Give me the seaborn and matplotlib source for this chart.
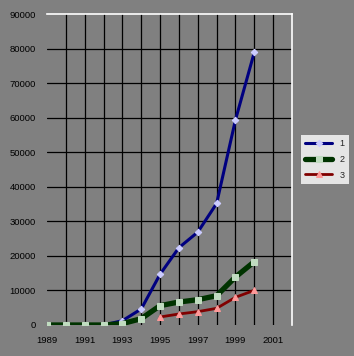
import numpy as np
import pandas as pd
import matplotlib
matplotlib.use("Agg")
import matplotlib.pyplot as plt
import seaborn as sns

years = [1989, 1990, 1991, 1992, 1993, 1994, 1995, 1996, 1997, 1998, 1999, 2000]
series1 = [0, 0, 0, 0, 1250, 4630, 14700, 22400, 26900, 35200, 59400, 79000]
series2 = [0, 0, 0, 0, 400, 1830, 5600, 6660, 7330, 8490, 13900, 18340]
years3 = [1995, 1996, 1997, 1998, 1999, 2000]
series3 = [2320, 3190, 3860, 4830, 8020, 10050]
names = ["1", "2", "3"]
xticks = [1989, 1991, 1993, 1995, 1997, 1999, 2001]
yticks = [0, 10000, 20000, 30000, 40000, 50000, 60000, 70000, 80000, 90000]

df = pd.concat([
    pd.DataFrame({"year": years, "value": series1, "series": names[0]}),
    pd.DataFrame({"year": years, "value": series2, "series": names[1]}),
    pd.DataFrame({"year": years3, "value": series3, "series": names[2]}),
])

sns.set_style("white")
plt.rcParams["font.family"] = ["Liberation Sans", "DejaVu Sans"]

bg = "#808080"
fig = plt.figure(figsize=(3.54, 3.56), dpi=100, facecolor=bg)
ax = fig.add_axes([47/354, 31/356, 245/354, 310.7/356])
ax.set_facecolor(bg)

line_colors = {"1": "#000080", "2": "#003300", "3": "#800000"}
marker_fc = {"1": "#ccccff", "2": "#c0dcc0", "3": "#ff9999"}
markers = {"1": "D", "2": "s", "3": "^"}
lws = {"1": 2.2, "2": 3.8, "3": 2.0}
msz = {"1": 3.3, "2": 3.8, "3": 4.0}

# grid
for yv in yticks[1:-1]:
    ax.axhline(yv, color="black", lw=0.9, zorder=1)
for xv in range(1990, 2002):
    ax.axvline(xv, color="black", lw=0.9, zorder=1)

for name in names:
    sub = df[df["series"] == name]
    sns.lineplot(data=sub, x="year", y="value", ax=ax, color=line_colors[name],
                 lw=lws[name], marker=markers[name], markersize=msz[name],
                 markerfacecolor=marker_fc[name], markeredgecolor=marker_fc[name],
                 label=name, zorder=3 if name != "1" else 2, legend=False)

ax.set_xlim(1989, 2002)
ax.set_ylim(0, 90000)
ax.set_xticks(xticks)
ax.set_xticklabels([str(x) for x in xticks])
ax.set_yticks(yticks)
ax.set_yticklabels([str(y) for y in yticks])
ax.tick_params(axis="both", length=0, labelsize=6.8, colors="black")
ax.tick_params(axis="y", pad=8)
ax.tick_params(axis="x", pad=8)
ax.set_xlabel("")
ax.set_ylabel("")
for s in ["left", "bottom"]:
    ax.spines[s].set_visible(False)
for s in ["top", "right"]:
    ax.spines[s].set_color("white")
    ax.spines[s].set_linewidth(1.2)

handles, labels = ax.get_legend_handles_labels()
leg = fig.legend(handles, labels, loc="upper left",
                 bbox_to_anchor=(300.5/354, 1 - 134.5/356),
                 frameon=True, fancybox=False, facecolor="white", edgecolor="white",
                 fontsize=6.5, handlelength=3.0, handletextpad=0.8,
                 borderpad=0.5, labelspacing=0.75, borderaxespad=0)
leg.get_frame().set_linewidth(0)

fig.savefig("out.png", dpi=100, facecolor=bg)
